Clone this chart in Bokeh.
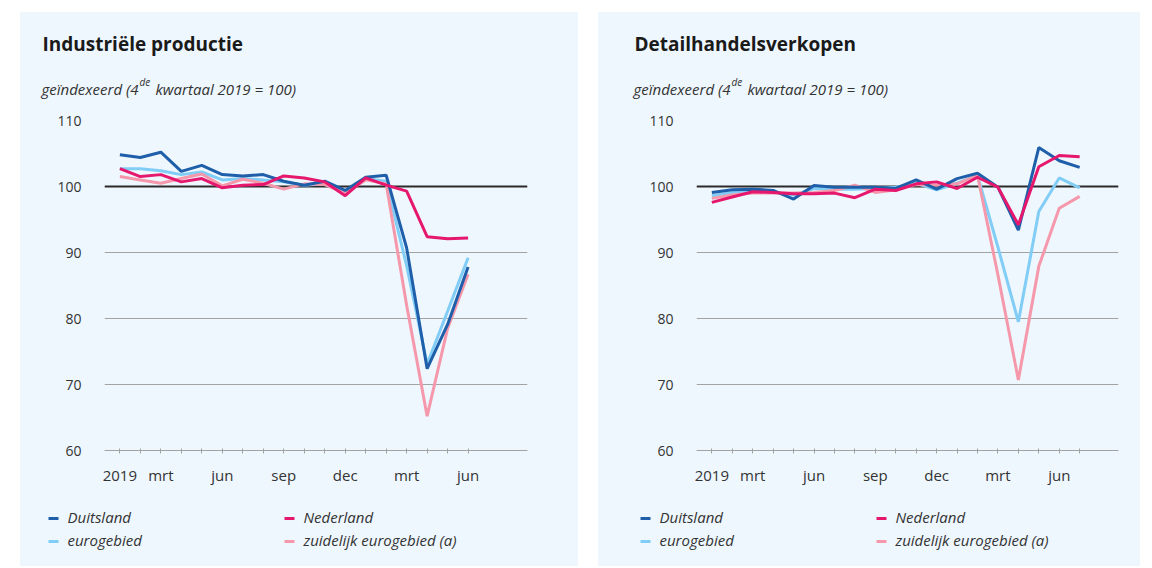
from bokeh.plotting import figure
from bokeh.models import FixedTicker, Span, Label, Range1d, Spacer
from bokeh.layouts import row, column
from bokeh.embed import file_html
from bokeh.resources import INLINE

# ---------------- data ----------------
months_ind = list(range(18))   # jan 2019 .. jun 2020
months_ret = list(range(19))   # jan 2019 .. jul 2020
tick_pos = [0, 2, 5, 8, 11, 14, 17]
tick_lbl = ["2019", "mrt", "jun", "sep", "dec", "mrt", "jun"]
y_ticks = [60, 70, 80, 90, 100, 110]

ind_de = [104.8, 104.4, 105.2, 102.3, 103.2, 101.8, 101.6, 101.8, 100.8, 100.2,
          100.8, 99.4, 101.4, 101.7, 90.7, 72.4, 79.1, 87.8]
ind_nl = [102.7, 101.5, 101.8, 100.7, 101.2, 99.8, 100.2, 100.3, 101.6, 101.3,
          100.7, 98.6, 101.3, 100.2, 99.3, 92.4, 92.1, 92.2]
ind_ea = [102.7, 102.7, 102.4, 101.8, 102.2, 101.0, 101.2, 101.0, 100.7, 100.2,
          100.4, 99.2, 101.2, 100.8, 88.0, 73.1, 81.1, 89.2]
ind_south = [101.5, 101.0, 100.5, 101.2, 101.9, 100.1, 101.1, 100.5, 99.6, 100.4,
             100.3, 99.0, 101.0, 100.4, 82.0, 65.2, 78.5, 86.7]

ret_de = [99.1, 99.5, 99.6, 99.4, 98.1, 100.15, 99.9, 99.9, 99.9, 99.7,
          101.0, 99.6, 101.2, 102.0, 99.9, 93.4, 105.9, 103.9, 102.9]
ret_nl = [97.6, 98.4, 99.2, 99.1, 98.9, 98.9, 99.0, 98.3, 99.6, 99.4,
          100.4, 100.7, 99.7, 101.4, 99.9, 94.2, 103.0, 104.7, 104.5]
ret_ea = [98.6, 99.1, 99.4, 99.2, 98.7, 99.7, 99.6, 99.6, 99.7, 99.9,
          100.5, 99.5, 100.5, 101.7, 90.8, 79.5, 96.2, 101.3, 99.8]
ret_south = [98.2, 98.7, 99.0, 99.0, 99.0, 99.1, 99.4, 100.2, 99.1, 99.5,
             100.3, 100.2, 100.4, 101.7, 86.6, 70.7, 87.9, 96.7, 98.5]

names = ["Duitsland", "Nederland", "eurogebied", "zuidelijk eurogebied (a)"]
titles = ["Industriële productie", "Detailhandelsverkopen"]
sub_a, sub_sup, sub_b = "geïndexeerd (4", "de", "kwartaal 2019 = 100)"

# ---------------- style ----------------
FONT = "Open Sans"
BG = "#eef7fe"
COLORS = ["#1f5fa9", "#e5186e", "#82cdf6", "#f598ab"]   # DE, NL, EA, south
GRID = "#a3a3a3"
TXT = "#333333"
HEAD_H, MAIN_H, FOOT_H = 100, 378, 76


def blank(width, height):
    p = figure(width=width, height=height, output_backend="svg", toolbar_location=None,
               x_range=Range1d(0, width), y_range=Range1d(height, 0),
               x_axis_type=None, y_axis_type=None, frame_align=False,
               min_border_left=0, min_border_right=0, min_border_top=0, min_border_bottom=0,
               background_fill_color=BG, border_fill_color=BG)
    p.outline_line_color = None
    p.grid.visible = False
    return p


def label(p, x, y, text, size, style="normal", align="left", color=TXT):
    p.add_layout(Label(x=x, y=y, text=text, text_font=FONT, text_font_size=size,
                       text_font_style=style, text_color=color, text_align=align,
                       text_baseline="alphabetic"))


def make_panel(title, months, series, width, left, right):
    # ---- header: title + subtitle
    head = blank(width, HEAD_H)
    label(head, left - 62, 31, title, "19px", "bold", color="#1a1a1a")
    label(head, left - 63, 76, sub_a, "15px", "italic")
    label(head, left + 35, 69, sub_sup, "10px", "italic")
    label(head, left + 51, 76, sub_b, "15px", "italic")

    # ---- main chart
    p = figure(width=width, height=MAIN_H, output_backend="svg", toolbar_location=None,
               x_range=Range1d(-0.75, 19.9), y_range=Range1d(60, 110),
               min_border_left=left, min_border_right=right,
               min_border_top=8, min_border_bottom=40, frame_align=False,
               background_fill_color=BG, background_fill_alpha=0,
               border_fill_color=BG)
    p.outline_line_color = None

    p.xaxis.ticker = FixedTicker(ticks=months)
    overrides = {m: "" for m in months}
    for t, l in zip(tick_pos, tick_lbl):
        overrides[t] = l
    p.xaxis.major_label_overrides = overrides
    p.xaxis.axis_line_color = GRID
    p.xaxis.major_tick_line_color = GRID
    p.xaxis.major_tick_in = 2
    p.xaxis.major_tick_out = 3
    p.xaxis.minor_tick_line_color = None
    p.xaxis.major_label_standoff = 11
    p.xaxis.major_label_text_font = FONT
    p.xaxis.major_label_text_font_size = "15px"
    p.xaxis.major_label_text_color = TXT

    p.yaxis.ticker = FixedTicker(ticks=y_ticks)
    p.yaxis.axis_line_color = None
    p.yaxis.major_tick_line_color = None
    p.yaxis.minor_tick_line_color = None
    p.yaxis.major_tick_out = 0
    p.yaxis.major_label_standoff = 23
    p.yaxis.major_label_text_font = FONT
    p.yaxis.major_label_text_font_size = "14px"
    p.yaxis.major_label_text_color = TXT

    p.xgrid.grid_line_color = None
    p.ygrid.ticker = FixedTicker(ticks=y_ticks)
    p.ygrid.grid_line_color = GRID
    p.ygrid.grid_line_width = 1

    p.add_layout(Span(location=100, dimension="width", line_color="#2b2b2b",
                      line_width=2, level="underlay"))

    # draw order: eurogebied, zuidelijk, Duitsland, Nederland
    for k in (2, 3, 0, 1):
        p.line(months, series[k], line_color=COLORS[k], line_width=3)

    # ---- footer: legend (two columns)
    foot = blank(width, FOOT_H)
    cols = [left - 56, left + 180]
    rows_y = [28, 51]
    order = [(0, 0, 0), (1, 1, 0), (2, 0, 1), (3, 1, 1)]   # (series, column, row)
    for k, c, r in order:
        x0 = cols[c]
        y0 = rows_y[r]
        foot.segment(x0=[x0], y0=[y0], x1=[x0 + 10], y1=[y0],
                     line_color=COLORS[k], line_width=3)
        label(foot, x0 + 19, y0 - 2, names[k], "15px", "italic")

    return column(head, p, foot, spacing=0, styles={"background-color": BG})


p1 = make_panel(titles[0], months_ind, [ind_de, ind_nl, ind_ea, ind_south], 558, 84, 51)
p2 = make_panel(titles[1], months_ret, [ret_de, ret_nl, ret_ea, ret_south], 542, 98, 22)

layout = column(Spacer(height=12),
                row(Spacer(width=20), p1, Spacer(width=20), p2))

open("out.html", "w").write(file_html(layout, INLINE))
